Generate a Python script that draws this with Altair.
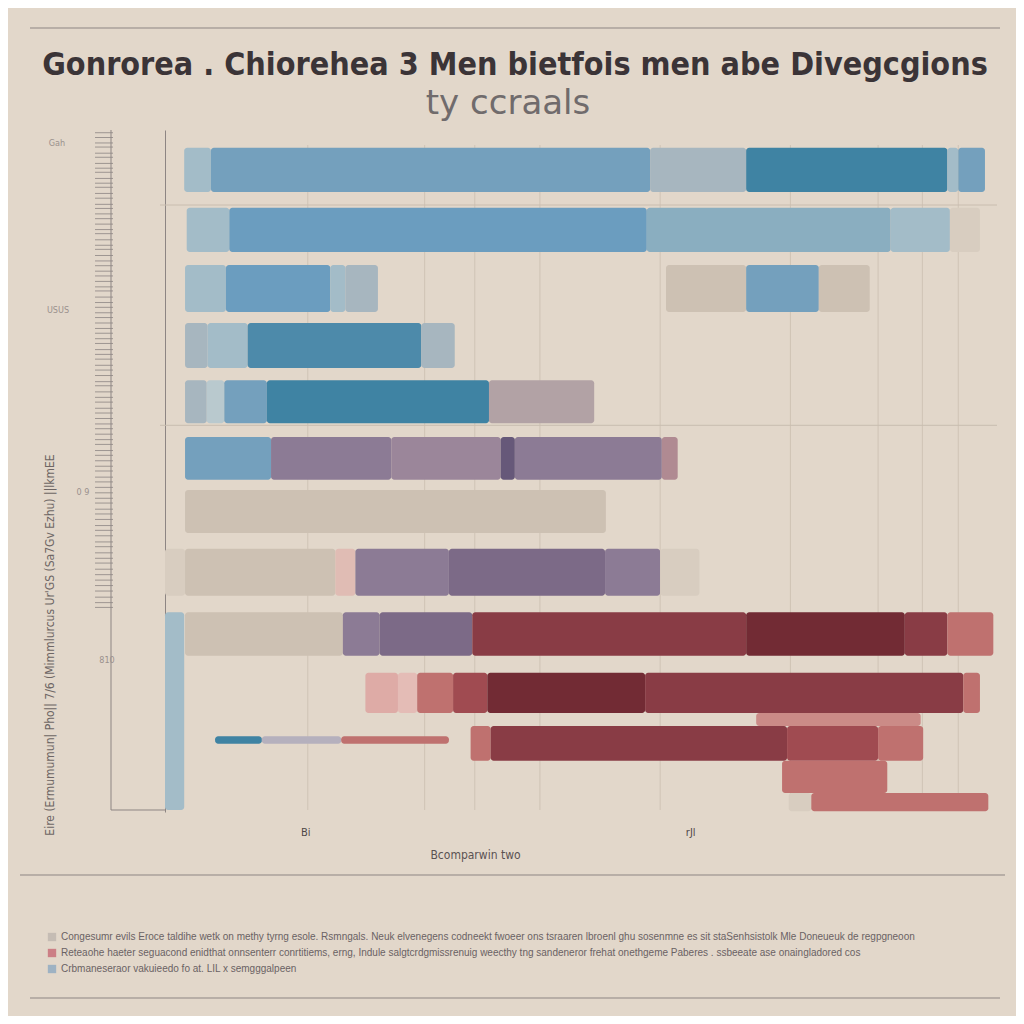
import altair as alt
import pandas as pd

# ---------------- data ----------------
title_text = "Gonrorea . Chiorehea 3 Men bietfois men abe Divegcgions"
subtitle_text = "ty ccraals"

row_top = [2.6, 11.4, 19.8, 28.3, 36.7, 45.0, 52.8, 61.4, 70.7, 79.6, 85.5, 87.4, 88.9, 92.5, 97.2, 70.7]
row_bottom = [9.1, 17.9, 26.7, 34.9, 43.0, 51.3, 59.1, 68.3, 77.1, 85.5, 87.4, 92.5, 90.0, 97.2, 99.9, 99.7]

seg_row = [0, 0, 0, 0, 0, 0,
           1, 1, 1, 1, 1,
           2, 2, 2, 2, 2, 2, 2,
           3, 3, 3, 3,
           4, 4, 4, 4, 4,
           5, 5, 5, 5, 5, 5,
           6,
           7, 7, 7, 7, 7, 7, 7,
           10,
           8, 8, 8, 8, 8, 8, 8,
           9, 9, 9, 9, 9, 9, 9,
           11, 11, 11, 11,
           12, 12, 12,
           13,
           14, 14,
           15]
seg_start = [2.3, 5.5, 58.1, 69.6, 93.7, 95.0,
             2.6, 7.7, 57.7, 86.9, 94.0,
             2.4, 7.3, 19.8, 21.6, 60.0, 69.6, 78.3,
             2.4, 5.1, 9.9, 30.7,
             2.4, 5.0, 7.1, 12.2, 38.8,
             2.4, 12.7, 27.1, 40.2, 41.9, 59.5,
             2.4,
             0.0, 2.4, 20.4, 22.8, 34.0, 52.7, 59.3,
             70.8,
             2.4, 21.3, 25.7, 36.8, 69.6, 88.6, 93.7,
             24.0, 27.9, 30.2, 34.5, 38.6, 57.5, 95.6,
             36.6, 39.0, 74.5, 85.4,
             6.0, 11.6, 21.1,
             73.9,
             74.7, 77.4,
             0.0]
seg_end = [5.5, 58.1, 69.6, 93.7, 95.0, 98.2,
           7.7, 57.7, 86.9, 94.0, 97.6,
           7.3, 19.8, 21.6, 25.5, 69.6, 78.3, 84.4,
           5.1, 9.9, 30.7, 34.7,
           5.0, 7.1, 12.2, 38.8, 51.4,
           12.7, 27.1, 40.2, 41.9, 59.5, 61.4,
           52.8,
           2.4, 20.4, 22.8, 34.0, 52.7, 59.3, 64.0,
           90.5,
           21.3, 25.7, 36.8, 69.6, 88.6, 93.7, 99.2,
           27.9, 30.2, 34.5, 38.6, 57.5, 95.6, 97.6,
           39.0, 74.5, 85.4, 90.8,
           11.6, 21.1, 34.0,
           86.5,
           77.4, 98.6,
           2.3]
seg_tone = ["lb", "b", "gb", "db", "lb", "b",
            "lb", "b2", "pb", "lb", "bg2",
            "lb", "b2", "lb", "gb", "bg1", "b", "bg1",
            "gb", "lb", "tl", "gb",
            "gb", "lb2", "b", "db", "mv",
            "b", "pu", "lp", "dp", "pu", "pk2",
            "bg1",
            "bg2", "bg1", "pk", "pu", "pu2", "pu", "bg2",
            "prl",
            "bg1", "pu", "pu2", "rd", "dr", "rd", "pr",
            "lpk", "lpk2", "pr", "rm", "dr", "rd", "pr",
            "pr", "rd", "rm", "pr",
            "db", "gp", "pr",
            "pr",
            "bg2", "pr",
            "lb"]

tone_names = ["leg1", "leg2", "leg3",
              "lb", "lb2", "gb", "b", "b2", "pb", "db", "tl",
              "bg1", "bg2", "mv", "pu", "pu2", "lp", "dp", "pk", "pk2",
              "rd", "dr", "rm", "pr", "prl", "lpk", "lpk2", "gp"]
tone_colors = ["#c5bcb4", "#cc7f86", "#9eb2c3",
               "#a3bcc8", "#b9c9ce", "#a7b6bf", "#74a0bd", "#6b9dbf", "#8aaec0", "#3f83a3", "#4d8aaa",
               "#cdc1b3", "#d8cdc0", "#b2a2a5", "#8c7b95", "#7c6a87", "#9b869a", "#665879", "#e0bcb4", "#b08a92",
               "#893c45", "#722b34", "#a04b51", "#bf716f", "#cb8b87", "#deaba6", "#e4bcb6", "#b5b0bd"]

legend_keys = ["leg1", "leg2", "leg3"]
legend_texts = [
    "Congesumr evils Eroce taldihe wetk on methy tyrng esole. Rsmngals. Neuk elvenegens codneekt fwoeer ons tsraaren lbroenl ghu sosenmne es sit staSenhsistolk Mle Doneueuk de regpgneoon",
    "Reteaohe haeter seguacond enidthat onnsenterr conrtitiems, erng, Indule salgtcrdgmissrenuig weecthy tng sandeneror frehat onethgeme Paberes . ssbeeate ase onaingladored cos",
    "Crbmaneseraor vakuieedo fo at. LIL x semgggalpeen",
]

grid_x = [17.1, 31.1, 37.1, 44.9, 59.3, 74.9, 85.4, 90.7, 95.0]
grid_y = [11.0, 43.3]
x_tick_values = [16.8, 62.9]
x_tick_labels = ["Bi", "rJl"]
x_axis_title = "Bcomparwin two"
left_label_values = [1.9, 26.4, 53.1, 77.7]
left_label_texts = ["Gah", "USUS", "0 9", "810"]
side_text = "Eire (Ermumumun| Pho|| 7/6 (Mimmlurcus Ur'GS (Sa7Gv Ezhu) ||lkmEE"
barcode_y = [0.4, 1.1, 1.9, 2.5, 3.4, 4.0, 4.9, 5.6, 6.2, 7.1, 7.8, 8.4, 9.3, 10.0, 10.9, 11.5,
             12.3, 13.0, 13.8, 14.6, 15.2, 16.1, 16.9, 17.5, 18.4, 19.2, 19.9, 20.7, 21.4, 22.2,
             23.0, 23.6, 24.5, 25.3, 26.0, 26.8, 27.5, 28.3, 29.1, 29.8, 30.6, 31.3, 32.2, 32.9,
             33.6, 34.5, 35.2, 36.0, 36.9, 37.5, 38.4, 39.2, 39.9, 40.8, 41.5, 42.3, 43.1, 43.8,
             44.6, 45.4, 46.1, 47.0, 47.7, 48.5, 49.3, 50.0, 50.9, 51.6, 52.4, 53.2, 54.0, 54.7,
             55.6, 56.3, 57.1, 58.0, 58.7, 59.5, 60.4, 61.1, 62.0, 62.8, 63.5, 64.4, 65.2, 66.0,
             66.8, 67.6, 68.5, 69.3, 70.0]

# ---------------- build ----------------
W, H = 835, 682
BG = "#e2d7ca"
LINE = "#8d8583"
FONT = "DejaVu Sans Condensed, Roboto, sans-serif"

bars = pd.DataFrame({
    "row": seg_row,
    "start": seg_start,
    "end": seg_end,
    "tone": seg_tone,
})
bars["top"] = [row_top[r] for r in seg_row]
bars["bottom"] = [row_bottom[r] for r in seg_row]
bars["order"] = range(len(bars))

xs = alt.Scale(domain=[0, 100], nice=False, zero=False)
ys = alt.Scale(domain=[0, 100], nice=False, zero=False, reverse=True)

label_expr = "datum.value == {0} ? '{1}' : datum.value == {2} ? '{3}' : ''".format(
    x_tick_values[0], x_tick_labels[0], x_tick_values[1], x_tick_labels[1])
leg_expr = "datum.value == 'leg1' ? '{0}' : datum.value == 'leg2' ? '{1}' : '{2}'".format(*legend_texts)

x_axis = alt.Axis(values=x_tick_values, labelExpr=label_expr, domain=False, ticks=False,
                  grid=False, labelFontSize=11, labelColor="#4f4848", labelFont=FONT,
                  labelPadding=14, title=x_axis_title, titleFont=FONT, titleFontSize=12,
                  titleFontWeight="normal", titleColor="#5a5252", titleX=310, titlePadding=12)
y_axis = alt.Axis(domain=True, domainColor=LINE, labels=False, ticks=False, grid=False, title=None)

one = pd.DataFrame({"k": [0]})

grid_v = alt.Chart(pd.DataFrame({"gx": grid_x})).mark_rule(color="#cfc3b5", strokeWidth=1).encode(
    x=alt.X("gx:Q", scale=xs, axis=x_axis), y=alt.value(15), y2=alt.value(680))
grid_h = alt.Chart(pd.DataFrame({"gy": grid_y})).mark_rule(color="#c9bdb0", strokeWidth=1).encode(
    y=alt.Y("gy:Q", scale=ys, axis=y_axis), x=alt.value(-5), x2=alt.value(832))

bar_layer = alt.Chart(bars).mark_bar(cornerRadius=3).encode(
    x=alt.X("start:Q", scale=xs, axis=x_axis),
    x2="end:Q",
    y=alt.Y("top:Q", scale=ys, axis=y_axis),
    y2="bottom:Q",
    color=alt.Color("tone:N", scale=alt.Scale(domain=tone_names, range=tone_colors),
                    legend=alt.Legend(values=legend_keys, labelExpr=leg_expr, orient="none",
                                      legendX=-118, legendY=802, title=None, symbolType="square",
                                      symbolSize=70, symbolStrokeWidth=0, labelFontSize=10,
                                      labelFont="Liberation Sans", labelColor="#6a6264",
                                      labelLimit=1200, rowPadding=6, padding=0)),
    order="order:Q",
)

barcode = alt.Chart(pd.DataFrame({"by": barcode_y})).mark_rule(color="#9d9591", strokeWidth=1).encode(
    y=alt.Y("by:Q", scale=ys, axis=y_axis), x=alt.value(-70), x2=alt.value(-52))

deco = []
# decorative frame lines (page rules and the small left axis)
for (x1, x2, y1, y2) in [(-135, 835, -102, -102), (-145, 840, 745, 745), (-135, 835, 868, 868),
                         (-54, -54, 0, 680), (-54, 0, 680, 680)]:
    deco.append(alt.Chart(one).mark_rule(color=LINE, strokeWidth=1).encode(
        x=alt.value(x1), x2=alt.value(x2), y=alt.value(y1), y2=alt.value(y2)))

left_x = [-108, -107, -82, -58]
for val, txt, lx in zip(left_label_values, left_label_texts, left_x):
    deco.append(alt.Chart(pd.DataFrame({"v": [val], "t": [txt]})).mark_text(
        fontSize=9, color="#9a918d", font=FONT, align="center", baseline="middle").encode(
        y=alt.Y("v:Q", scale=ys, axis=y_axis), x=alt.value(lx), text="t:N"))

deco.append(alt.Chart(one).mark_text(text=side_text, angle=270, fontSize=12, color="#6e6664",
                                     font=FONT, align="center", baseline="middle").encode(
    x=alt.value(-115), y=alt.value(515)))

deco.append(alt.Chart(one).mark_text(text=title_text, fontSize=32, fontWeight="bold", color="#3b3437",
                                     font=FONT, align="center", baseline="alphabetic").encode(
    x=alt.value(350), y=alt.value(-55)))
deco.append(alt.Chart(one).mark_text(text=subtitle_text, fontSize=34, color="#706b6c",
                                     font="DejaVu Sans, sans-serif", fontWeight="normal",
                                     align="center", baseline="alphabetic").encode(
    x=alt.value(343), y=alt.value(-16)))

chart = alt.layer(grid_v, grid_h, bar_layer, barcode, *deco).properties(
    width=W, height=H,
    background=BG,
    autosize=alt.AutoSizeParams(type="none"),
    padding={"left": 157, "top": 122, "right": 16, "bottom": 204},
).configure_view(stroke=None)

chart.save("out.html", embed_options={"renderer": "svg", "actions": False})
